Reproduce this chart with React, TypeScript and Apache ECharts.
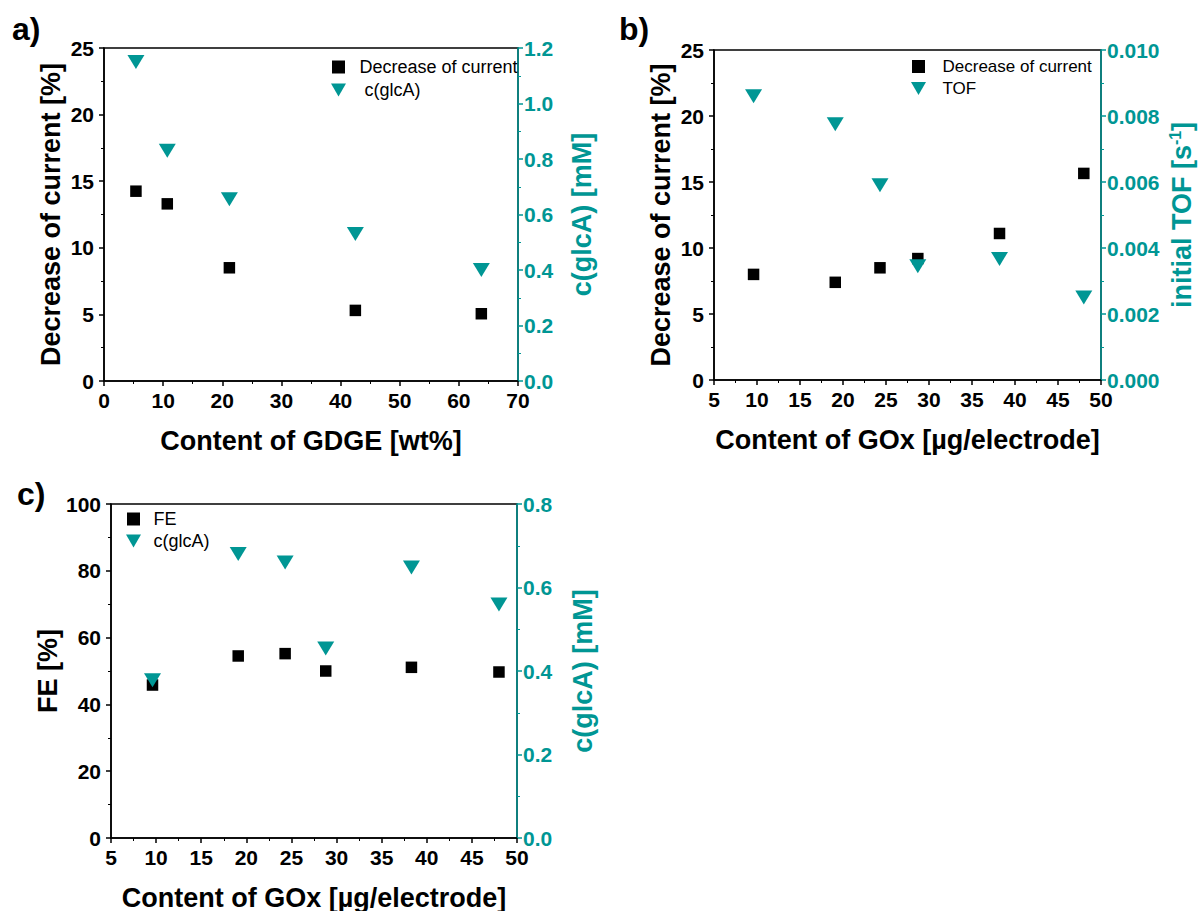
import React, { useEffect, useRef } from "react";
import * as echarts from "echarts";

// ---- data ----
const aGdge = [5.4, 10.7, 21.2, 42.5, 63.8];
const aDecrease = [14.25, 13.3, 8.5, 5.3, 5.05];
const aGlcA = [1.15, 0.83, 0.655, 0.53, 0.4];

const bGox = [9.6, 19.1, 24.3, 28.7, 38.2, 48.0];
const bDecrease = [8.0, 7.4, 8.5, 9.2, 11.1, 15.65];
const bTof = [0.0086, 0.00775, 0.0059, 0.00345, 0.00367, 0.0025];

const cGox = [9.6, 19.1, 24.3, 28.8, 38.3, 48.0];
const cFe = [45.8, 54.5, 55.2, 50.0, 51.1, 49.7];
const cGlcA = [0.378, 0.68, 0.66, 0.454, 0.648, 0.559];

const panelLetters = ["a)", "b)", "c)"];

const TEAL = "#009694";
const FONT = '"Liberation Sans", Arial, Helvetica, sans-serif';
const SQUARE_ICON = "path://M0,0L10,0L10,10L0,10Z";
const TRI_ICON = "path://M0,0L15,0L7.5,13Z";
const TRI_SYMBOL = "path://M0,0L17,0L8.5,14Z";
const TITLE_SIZE = 27;
const TICK_SIZE = 21;

function xAxisCfg(gridIndex: number, min: number, max: number, interval: number, name: string) {
  return {
    type: "value",
    gridIndex,
    min,
    max,
    interval,
    name,
    nameLocation: "middle",
    nameGap: 46,
    nameTextStyle: { fontSize: TITLE_SIZE, fontWeight: "bold", color: "#000", fontFamily: FONT },
    axisLine: { show: true, onZero: false, lineStyle: { color: "#000", width: 1.5 } },
    axisTick: { show: true, inside: false, length: 5, lineStyle: { color: "#000", width: 1.5 } },
    minorTick: { show: true, splitNumber: 2, length: 3, lineStyle: { color: "#000", width: 1 } },
    axisLabel: {
      fontSize: TICK_SIZE,
      fontWeight: "bold",
      color: "#000",
      margin: 9,
      fontFamily: FONT,
      showMinLabel: true,
      showMaxLabel: true,
    },
    splitLine: { show: false },
    minorSplitLine: { show: false },
  };
}

function yAxisCfg(
  gridIndex: number,
  position: "left" | "right",
  min: number,
  max: number,
  interval: number,
  name: string,
  nameGap: number,
  decimals: number,
  rich?: any
) {
  const color = position === "left" ? "#000" : TEAL;
  return {
    type: "value",
    gridIndex,
    position,
    min,
    max,
    interval,
    name,
    nameLocation: "middle",
    nameGap,
    nameTextStyle: { fontSize: TITLE_SIZE, fontWeight: "bold", color, fontFamily: FONT, rich },
    axisLine: { show: true, onZero: false, lineStyle: { color, width: 1.5 } },
    axisTick: { show: true, inside: false, length: 5, lineStyle: { color, width: 1.5 } },
    minorTick: { show: true, splitNumber: 2, length: 3, lineStyle: { color, width: 1 } },
    axisLabel: {
      fontSize: TICK_SIZE,
      fontWeight: "bold",
      color,
      margin: position === "left" ? 10 : 6,
      fontFamily: FONT,
      showMinLabel: true,
      showMaxLabel: true,
      formatter: (v: number) => (decimals === 0 ? String(Math.round(v)) : v.toFixed(decimals)),
    },
    splitLine: { show: false },
    minorSplitLine: { show: false },
  };
}

function squareSeries(name: string, xs: number[], ys: number[], xi: number, yi: number) {
  return {
    type: "scatter",
    name,
    xAxisIndex: xi,
    yAxisIndex: yi,
    symbol: "rect",
    symbolSize: 11.5,
    itemStyle: { color: "#000", opacity: 1 },
    data: xs.map((x, i) => [x, ys[i]]),
    z: 3,
  };
}

function triSeries(name: string, xs: number[], ys: number[], xi: number, yi: number) {
  return {
    type: "scatter",
    name,
    xAxisIndex: xi,
    yAxisIndex: yi,
    symbol: TRI_SYMBOL,
    symbolSize: [17, 14],
    itemStyle: { color: TEAL, opacity: 1 },
    data: xs.map((x, i) => [x, ys[i]]),
    z: 4,
  };
}

function legendCfg(
  left: number,
  top: number,
  itemWidth: number,
  itemGap: number,
  fontSize: number,
  names: string[]
) {
  return {
    orient: "vertical",
    left,
    top,
    padding: 0,
    itemWidth,
    itemHeight: 13,
    itemGap,
    selectedMode: false,
    symbolKeepAspect: true,
    textStyle: { fontSize, color: "#000", fontFamily: FONT },
    data: [
      { name: names[0], icon: SQUARE_ICON },
      { name: names[1], icon: TRI_ICON },
    ],
  };
}

const gridBase = {
  show: true,
  borderColor: "#000",
  borderWidth: 1.5,
  backgroundColor: "transparent",
  containLabel: false,
  outerBoundsMode: "none",
};

export default function App() {
  const ref = useRef<HTMLDivElement>(null);

  useEffect(() => {
    document.body.style.margin = "0";
    if (!ref.current) return;
    const chart = echarts.init(ref.current, undefined, { renderer: "svg" });

    const option: any = {
      animation: false,
      backgroundColor: "#fff",
      textStyle: { fontFamily: FONT },
      grid: [
        { ...gridBase, left: 104, top: 48, width: 414, height: 333 },
        { ...gridBase, left: 714, top: 50, width: 387, height: 330 },
        { ...gridBase, left: 111, top: 504, width: 406, height: 334 },
      ],
      xAxis: [
        xAxisCfg(0, 0, 70, 10, "Content of GDGE [wt%]"),
        xAxisCfg(1, 5, 50, 5, "Content of GOx [µg/electrode]"),
        xAxisCfg(2, 5, 50, 5, "Content of GOx [µg/electrode]"),
      ],
      yAxis: [
        yAxisCfg(0, "left", 0, 25, 5, "Decrease of current [%]", 40, 0),
        yAxisCfg(0, "right", 0, 1.2, 0.2, "c(glcA) [mM]", 50, 1),
        yAxisCfg(1, "left", 0, 25, 5, "Decrease of current [%]", 40, 0),
        yAxisCfg(1, "right", 0, 0.01, 0.002, "{m|initial TOF [s}{s|-1}{m|]}", 66, 3, {
          m: { fontSize: TITLE_SIZE, fontWeight: "bold", color: TEAL, fontFamily: FONT, lineHeight: 30 },
          s: { fontSize: 16, fontWeight: "bold", color: TEAL, fontFamily: FONT, verticalAlign: "top", lineHeight: 30 },
        }),
        yAxisCfg(2, "left", 0, 100, 20, "FE [%]", 50, 0),
        yAxisCfg(2, "right", 0, 0.8, 0.2, "c(glcA) [mM]", 52, 1),
      ],
      legend: [
        legendCfg(331, 58, 32, 5, 18, ["Decrease of current", " c(glcA)"]),
        legendCfg(911, 58, 38, 5, 17, ["Decrease of current", "TOF"]),
        legendCfg(126, 510, 30, 4, 18, ["FE", "c(glcA)"]),
      ],
      series: [
        squareSeries("Decrease of current", aGdge, aDecrease, 0, 0),
        triSeries(" c(glcA)", aGdge, aGlcA, 0, 1),
        squareSeries("Decrease of current", bGox, bDecrease, 1, 2),
        triSeries("TOF", bGox, bTof, 1, 3),
        squareSeries("FE", cGox, cFe, 2, 4),
        triSeries("c(glcA)", cGox, cGlcA, 2, 5),
      ],
      graphic: [
        { type: "text", left: 12, top: 13, style: { text: panelLetters[0], fontSize: 32, fontWeight: "bold", fontFamily: FONT, fill: "#000" } },
        { type: "text", left: 619, top: 13, style: { text: panelLetters[1], fontSize: 32, fontWeight: "bold", fontFamily: FONT, fill: "#000" } },
        { type: "text", left: 17, top: 478, style: { text: panelLetters[2], fontSize: 32, fontWeight: "bold", fontFamily: FONT, fill: "#000" } },
      ],
    };

    chart.setOption(option);
    return () => chart.dispose();
  }, []);

  return <div ref={ref} style={{ width: 1198, height: 911 }} />;
}
